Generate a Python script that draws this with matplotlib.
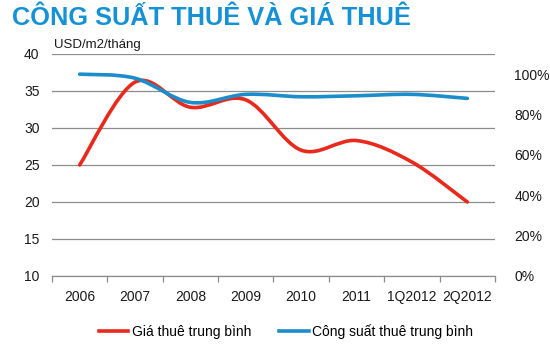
import matplotlib
matplotlib.use("Agg")
import matplotlib.pyplot as plt
from matplotlib.path import Path
from matplotlib.patches import PathPatch
from matplotlib.lines import Line2D
import numpy as np

plt.rcParams['font.family'] = ['Liberation Sans', 'DejaVu Sans']

categories = ["2006", "2007", "2008", "2009", "2010", "2011", "1Q2012", "2Q2012"]
rent_price = [25.0, 36.2, 32.8, 33.8, 27.0, 28.3, 25.4, 20.0]          # USD/m2/tháng
occupancy = [1.00, 0.98, 0.86, 0.90, 0.888, 0.893, 0.90, 0.88]          # fraction
left_ticks = [10, 15, 20, 25, 30, 35, 40]
right_ticks = [0, 0.2, 0.4, 0.6, 0.8, 1.0]
right_labels = ["0%", "20%", "40%", "60%", "80%", "100%"]

RED = "#e8291c"
BLUE = "#1a8dca"
TITLE_BLUE = "#1592d5"


def smooth_path(xs, ys):
    xs = np.asarray(xs, float)
    ys = np.asarray(ys, float)
    n = len(xs)
    verts = [(xs[0], ys[0])]
    codes = [Path.MOVETO]
    for i in range(n - 1):
        i0 = max(i - 1, 0)
        i3 = min(i + 2, n - 1)
        c1 = (xs[i] + (xs[i + 1] - xs[i0]) / 6, ys[i] + (ys[i + 1] - ys[i0]) / 6)
        c2 = (xs[i + 1] - (xs[i3] - xs[i]) / 6, ys[i + 1] - (ys[i3] - ys[i]) / 6)
        verts += [c1, c2, (xs[i + 1], ys[i + 1])]
        codes += [Path.CURVE4] * 3
    return Path(verts, codes)


fig = plt.figure(figsize=(5.5, 3.51), dpi=100)
ax = fig.add_axes([0.0945, 0.2137, 0.8055, 0.6325])
ax2 = ax.twinx()

x = np.arange(len(categories))
ax.set_xlim(-0.5, len(categories) - 0.5)
ax.set_ylim(10, 40)
ax2.set_ylim(0, 1.1)

for v in left_ticks:
    ax.axhline(v, color="#8c8c8c", lw=0.9, zorder=0)

ax.add_patch(PathPatch(smooth_path(x, rent_price), fill=False, ec=RED, lw=2.6,
                       capstyle='round', joinstyle='round', zorder=3))
ax2.add_patch(PathPatch(smooth_path(x, occupancy), fill=False, ec=BLUE, lw=2.6,
                        capstyle='round', joinstyle='round', zorder=3))

for s in ["top", "left", "right"]:
    ax.spines[s].set_visible(False)
    ax2.spines[s].set_visible(False)
ax2.spines["bottom"].set_visible(False)
ax.spines["bottom"].set_color("#8c8c8c")
ax.spines["bottom"].set_linewidth(0.9)

ax.set_yticks(left_ticks)
ax.set_yticklabels([str(v) for v in left_ticks])
ax.tick_params(axis="y", length=0, pad=9, labelsize=10, colors="#1a1a1a")
ax2.set_yticks(right_ticks)
ax2.set_yticklabels(right_labels)
ax2.tick_params(axis="y", length=0, pad=14, labelsize=10, colors="#1a1a1a")

ax.set_xticks(x)
ax.set_xticklabels(categories)
ax.set_xticks(np.arange(-0.5, len(categories)), minor=True)
ax.tick_params(axis="x", which="major", length=0, pad=10, labelsize=10, colors="#1a1a1a")
ax.tick_params(axis="x", which="minor", length=4, color="#8c8c8c", width=0.9)

fig.text(0.022, 0.95, "CÔNG SUẤT THUÊ VÀ GIÁ THUÊ", fontsize=18.3, fontweight="bold",
         color=TITLE_BLUE, va="center", ha="left")
fig.text(0.098, 0.872, "USD/m2/tháng", fontsize=9.5, color="#1a1a1a", va="center", ha="left")

handles = [Line2D([0], [0], color=RED, lw=2.6), Line2D([0], [0], color=BLUE, lw=2.6)]
fig.legend(handles, ["Giá thuê trung bình", "Công suất thuê trung bình"],
           loc="center", bbox_to_anchor=(0.52, 0.055), ncol=2, frameon=False,
           fontsize=10, handlelength=2.15, handletextpad=0.25, columnspacing=2.0)

fig.savefig("out.png", dpi=100)
